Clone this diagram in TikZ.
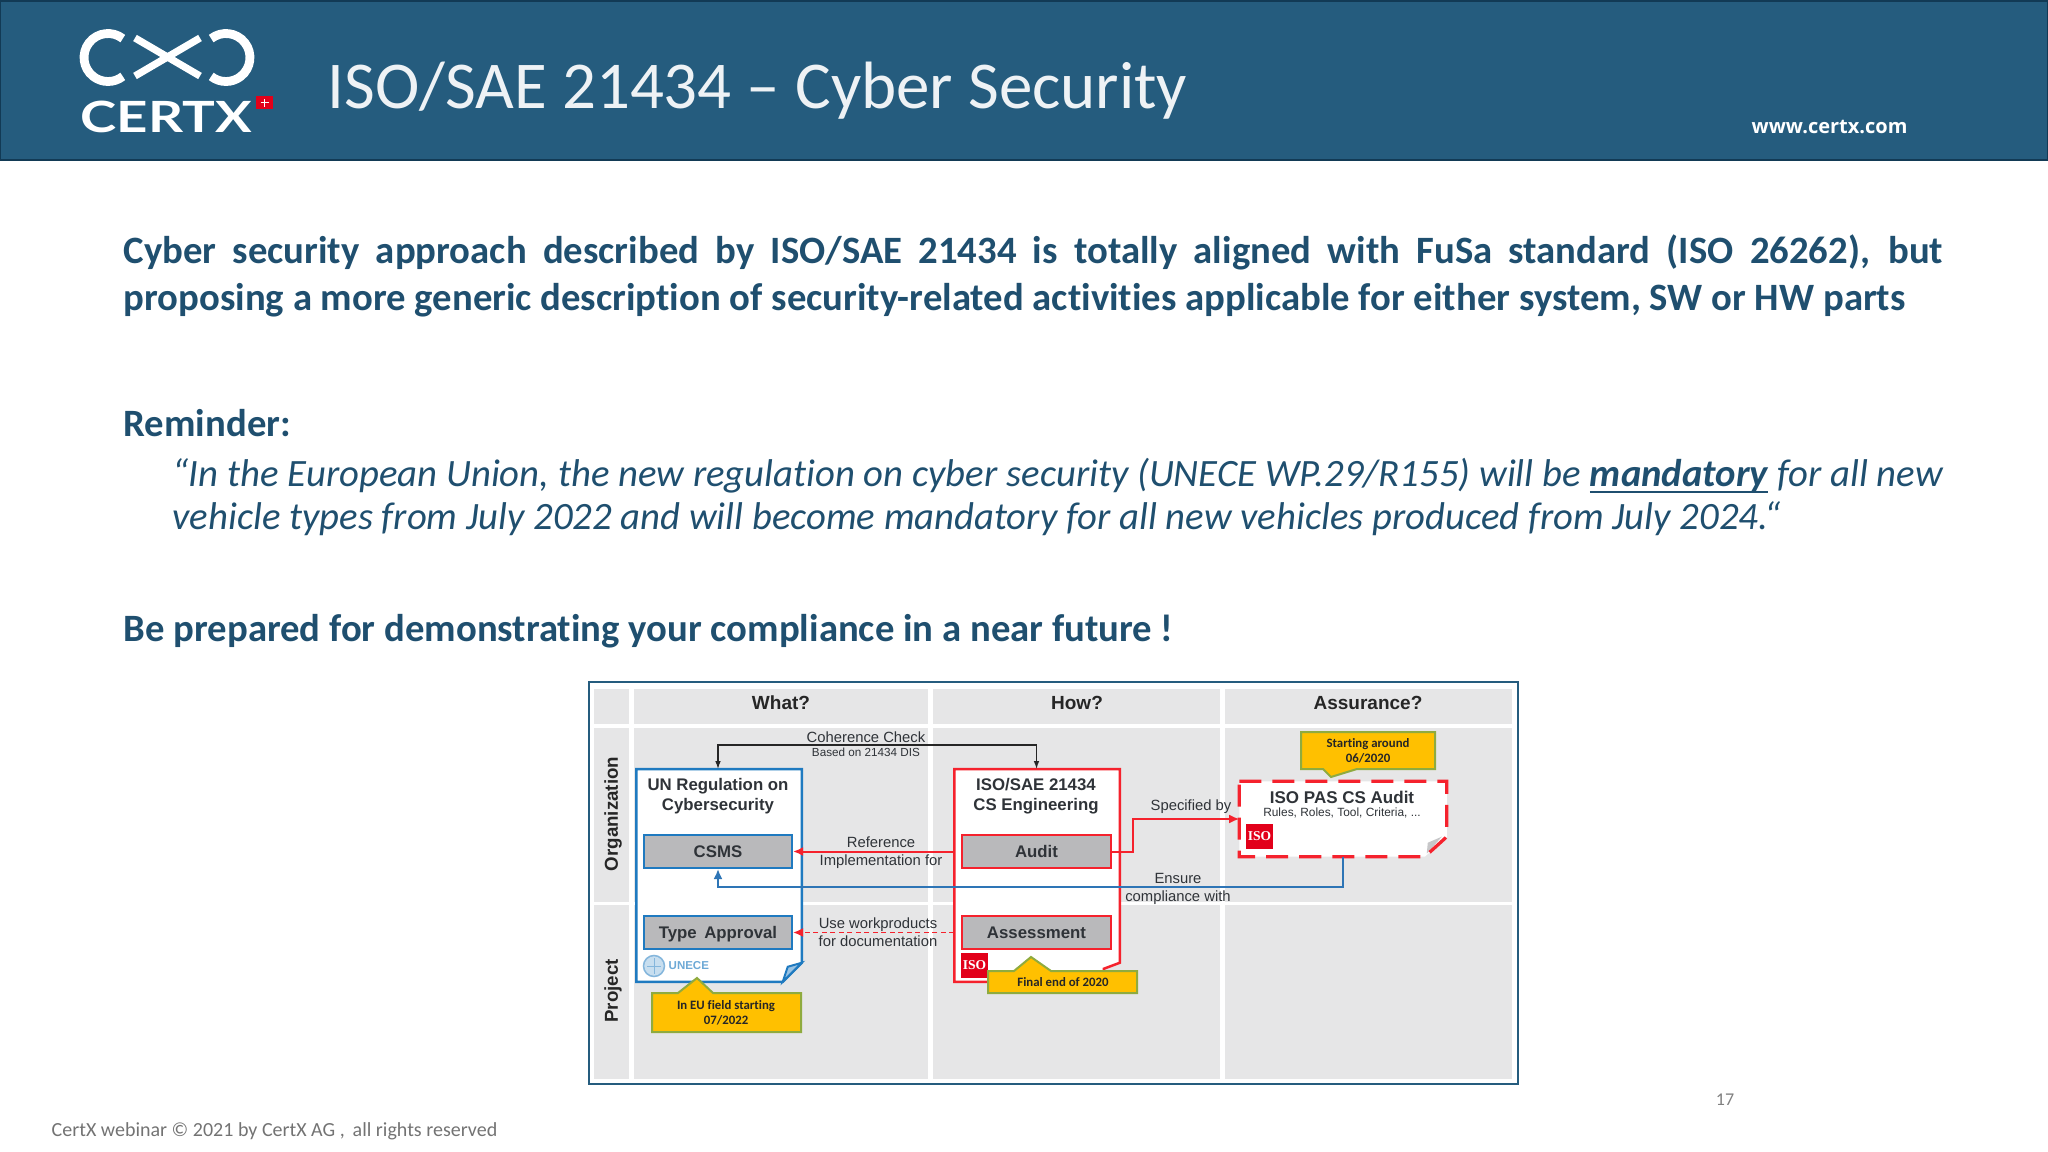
\documentclass[tikz,border=0pt]{standalone}
\usepackage{fontspec}
\setmainfont[Ligatures={TeX,NoCommon}]{Carlito}
\newfontfamily\arialfont{Liberation Sans}
\newfontfamily\logofont{Lato}
\newfontfamily\webfont{Open Sans}
\newfontfamily\isofont{Liberation Serif}
\usetikzlibrary{calc,arrows.meta}
\definecolor{headblue}{HTML}{255C7E}
\definecolor{headdark}{HTML}{123A55}
\definecolor{bodyblue}{HTML}{1F4F6F}
\definecolor{bandgray}{HTML}{E6E6E7}
\definecolor{boxgray}{HTML}{B9B9BB}
\definecolor{docblue}{HTML}{1F7AC0}
\definecolor{linkblue}{HTML}{2E75B6}
\definecolor{isored}{HTML}{F5222D}
\definecolor{logored}{HTML}{E2001A}
\definecolor{callyellow}{HTML}{FFC000}
\definecolor{callgreen}{HTML}{8FAB3F}
\definecolor{inktext}{HTML}{2F3338}
\def\fs#1{\fontsize{\fpeval{#1*0.2845}}{\fpeval{#1*0.2845*1.2}}\selectfont}
\def\isologo(#1)(#2){\node[fill=logored, text=white, inner sep=0pt, minimum width=2.7mm, minimum height=2.5mm, font=\isofont\bfseries\fs{13.5}] (#1) at (#2) {ISO};
	\draw[white, line width=0.1mm, opacity=0.55] (#1) circle (0.095);}
\tikzset{
	band/.style={fill=bandgray},
	headlabel/.style={font=\arialfont\bfseries\fs{19}, text=black!85, inner sep=0pt},
	sidelabel/.style={font=\arialfont\bfseries\fs{18.7}, text=black!85, inner sep=0pt, rotate=90},
	boxtitle/.style={font=\arialfont\bfseries\fs{16.8}, text=inktext, inner sep=0pt, align=center},
	linklabel/.style={font=\arialfont\fs{14.8}, text=inktext, inner sep=0pt, align=center},
	callout/.style={fill=callyellow, draw=callgreen, line width=0.2mm},
	calltext/.style={font=\bfseries\fs{12.8}, text=black!85, inner sep=0pt, align=center},
	framebox/.style={inner sep=0pt},
	bluebox/.style={fill=boxgray, draw=docblue, line width=0.2mm, inner sep=0pt, minimum width=14.8mm, minimum height=3.3mm, text height=1.2mm, text depth=0pt, font=\arialfont\bfseries\fs{16.8}, text=inktext},
	redbox/.style={bluebox, draw=isored},
	redarrow/.style={draw=isored, line width=0.2mm, -{Latex[length=1.0mm, width=0.9mm]}},
	bluearrow/.style={draw=linkblue, line width=0.2mm, -{Latex[length=1.0mm, width=0.9mm]}},
	blackarrow/.style={draw=black!85, line width=0.15mm, {Latex[length=0.8mm, width=0.55mm]}-{Latex[length=0.8mm, width=0.55mm]}},
	bodytext/.style={inner sep=0pt, text=bodyblue, anchor=north west},
}

\begin{document}
\begin{tikzpicture}[x=0.01cm, y=-0.01cm]
		%%%%% HEADER %%%%%
		\useasboundingbox (0, 0) rectangle (2048, 1152);
		\draw[fill=headblue, draw=headdark, line width=0.2mm] (0, 1) rectangle (2048, 160.5);
		
		\draw[white, line width=0.88mm] (122.8, 38.6) arc (308:52:24);
		\draw[white, line width=0.88mm] (211.2, 38.6) arc (-128:128:24);
		\draw[white, line width=0.72mm] (135, 76) -- (200, 38);
		\draw[white, line width=0.72mm] (135, 38) -- (200, 76);
		\node[inner sep=0pt, anchor=base west, text=white, font=\logofont\bfseries\fs{43}] (brand) at (80, 133) {\scalebox{1.27}[1]{CERTX}};
		\node[fill=logored, inner sep=0pt, minimum width=1.6mm, minimum height=1.3mm] (flag) at (264.5, 103) {};
		\draw[white, line width=0.1mm] ($(flag)+(-4, 0)$) -- ($(flag)+(4, 0)$);
		\draw[white, line width=0.1mm] ($(flag)+(0, -4)$) -- ($(flag)+(0, 4)$);
		
		\node[inner sep=0pt, anchor=base west, text=white!92!headblue, font=\fs{66.9}] (title) at (327, 109) {ISO/SAE 21434 -- Cyber Security};
		\node[inner sep=0pt, anchor=base west, text=white, font=\webfont\bfseries\fs{20}] (web) at (1751, 134) {www.certx.com};
		
		%%%%% BODY %%%%%
		\node[bodytext, text width=18.18cm, align=justify, font=\bfseries\fontsize{11.01}{13.25}\selectfont] (intro) at (123, 234) {Cyber security approach described by ISO/SAE 21434 is totally aligned with FuSa standard (ISO 26262), but\linebreak proposing a more generic description of security-related activities applicable for either system, SW or HW parts};
		\node[bodytext, font=\bfseries\fontsize{11.01}{13.25}\selectfont] (reminder) at (123, 409) {Reminder:};
		\node[bodytext, text width=17.69cm, align=justify, font=\itshape\fontsize{11.01}{11.95}\selectfont] (quote) at (172, 458) {``In the European Union, the new regulation on cyber security (UNECE WP.29/R155) will be \underline{\smash{\textbf{mandatory}}} for all new\linebreak vehicle types from July 2022 and will become mandatory for all new vehicles produced from July 2024.``};
		\node[bodytext, font=\bfseries\fontsize{11.01}{13.25}\selectfont] (prepared) at (123, 614) {Be prepared for demonstrating your compliance in a near future !};
		
		\node[inner sep=0pt, anchor=base west, text=black!55, font=\fs{20}] (footer) at (51, 1136) {CertX webinar © 2021 by CertX AG ,\, all rights reserved};
		\node[inner sep=0pt, text=black!50, font=\fs{18}] (pagenum) at (1725, 1100) {17};
		
		%%%%% MATRIX %%%%%
		\draw[draw=headblue, line width=0.2mm] (589, 682) rectangle (1518, 1084);
		\foreach \xa/\xb in {594/629, 634/928, 933/1220, 1225/1512} {
			\fill[band] (\xa, 689) rectangle (\xb, 724);
			\fill[band] (\xa, 728) rectangle (\xb, 902);
			\fill[band] (\xa, 905) rectangle (\xb, 1079);
		}
		\node[headlabel] (what) at (781, 703) {What?};
		\node[headlabel] (how) at (1077, 703) {How?};
		\node[headlabel] (assurance) at (1368, 703) {Assurance?};
		\node[sidelabel] (organization) at (613, 814) {Organization};
		\node[sidelabel] (project) at (613, 991) {Project};
		
		% regulation sheet
		\node[framebox, minimum width=16.4mm, minimum height=21.1mm] (unbox) at (719, 875.5) {};
		\draw[fill=white, draw=docblue, line width=0.25mm] (unbox.north west) -- (unbox.north east) -- ($(unbox.south east)+(0, -19)$) -- ($(unbox.south east)+(-19, 0)$) -- (unbox.south west) -- cycle;
		\draw[fill=docblue!45, draw=docblue, line width=0.2mm] ($(unbox.south east)+(0, -19)$) -- ($(unbox.south east)+(-14, -15)$) -- ($(unbox.south east)+(-19, 0)$) -- cycle;
		\node[boxtitle] (untitle) at (718, 796.5) {UN Regulation on\\Cybersecurity};
		\node[bluebox] (csms) at (718, 851.5) {CSMS};
		\node[bluebox] (approval) at (718, 932.5) {Type\, Approval};
		\draw[fill=docblue!25, draw=docblue!55, line width=0.15mm] (654, 966) circle (10.5);
		\draw[docblue!55, line width=0.1mm] (647, 966) -- (661, 966) (654, 958) -- (654, 974);
		\node[inner sep=0pt, anchor=west, text=docblue!65, font=\arialfont\bfseries\fs{11.5}] (unece) at (668, 966) {UNECE};
		
		% engineering sheet
		\node[framebox, minimum width=16.4mm, minimum height=21.1mm] (isobox) at (1037, 875.5) {};
		\draw[fill=white, draw=isored, line width=0.25mm] (isobox.north west) -- (isobox.north east) -- ($(isobox.south east)+(0, -19)$) -- ($(isobox.south east)+(-16, -13)$) -- ($(isobox.south east)+(-16, 0)$) -- (isobox.south west) -- cycle;
		\node[boxtitle] (isotitle) at (1036, 796.5) {ISO/SAE 21434\\CS Engineering};
		\node[redbox] (audit) at (1036.5, 851.5) {Audit};
		\node[redbox] (assess) at (1036.5, 932.5) {Assessment};
		\isologo(isomark)(974.5, 965.5)
		
		% audit sheet
		\node[framebox, minimum width=20.6mm, minimum height=7.4mm] (pasbox) at (1343, 819) {};
		\draw[fill=white, draw=none] (pasbox.north west) -- (pasbox.north east) -- ($(pasbox.south east)+(0, -20)$) -- ($(pasbox.south east)+(-22, 0)$) -- (pasbox.south west) -- cycle;
		\draw[fill=boxgray!80, draw=none] ($(pasbox.south east)+(-5, -20)$) -- ($(pasbox.south east)+(-19, -14)$) -- ($(pasbox.south east)+(-20, -3)$) -- cycle;
		\draw[draw=isored, line width=0.33mm, dash pattern=on 2.2mm off 1.1mm] (pasbox.north west) -- (pasbox.north east) -- ($(pasbox.south east)+(0, -20)$) -- ($(pasbox.south east)+(-22, 0)$) -- (pasbox.south west) -- cycle;
		\node[boxtitle, font=\arialfont\bfseries\fs{17}] (pastitle) at (1342, 797) {ISO PAS CS Audit};
		\node[linklabel, font=\arialfont\fs{11.9}] (passub) at (1342, 813) {Rules, Roles, Tool, Criteria, ...};
		\isologo(pasmark)(1259.5, 836.5)
		
		%%%%% CALLOUTS %%%%%
		\draw[callout] (652, 993) -- (678, 993) -- (697, 978) -- (713, 993) -- (801, 993) -- (801, 1032) -- (652, 1032) -- cycle;
		\node[calltext] (eutext) at (726, 1013) {In EU field starting\\07/2022};
		\draw[callout] (988, 971) -- (1014, 971) -- (1031, 957) -- (1051, 971) -- (1137, 971) -- (1137, 993) -- (988, 993) -- cycle;
		\node[calltext] (finaltext) at (1063, 982) {Final end of 2020};
		\draw[callout] (1301, 732) -- (1435, 732) -- (1435, 769) -- (1357, 769) -- (1331, 777) -- (1323, 769) -- (1301, 769) -- cycle;
		\node[calltext] (starttext) at (1368, 751) {Starting around\\06/2020};
		
		%%%%% CONNECTORS %%%%%
		\coordinate (cohere) at (866, 745);
		\draw[blackarrow] (unbox.north -| csms) |- (cohere) -| (isobox.north -| audit);
		\node[linklabel] (coheretext) at (866, 737) {Coherence Check};
		\node[linklabel, font=\arialfont\fs{11.7}] (basedtext) at (866, 752) {Based on 21434 DIS};
		
		\draw[redarrow] (isobox.west |- csms) -- (csms.east);
		\node[linklabel] (reftext) at (881, 852.5) {Reference\\Implementation for};
		
		\draw[redarrow, line width=0.18mm, dash pattern=on 0.5mm off 0.35mm] (isobox.west |- approval) -- (approval.east);
		\node[linklabel] (usetext) at (878, 932) {Use workproducts\\for documentation};
		
		\coordinate (specbend) at (1133, 819);
		\draw[redarrow] (audit.east) -| (specbend) -- (pasbox.west);
		\node[linklabel] (spectext) at (1191, 807) {Specified by};
		
		\coordinate (ensurebend) at (1343, 887);
		\draw[bluearrow] (pasbox.south) -- (ensurebend) -| (csms.south);
		\node[linklabel] (ensuretext) at (1178, 889) {Ensure\\compliance with};
		
	\end{tikzpicture}
\end{document}
